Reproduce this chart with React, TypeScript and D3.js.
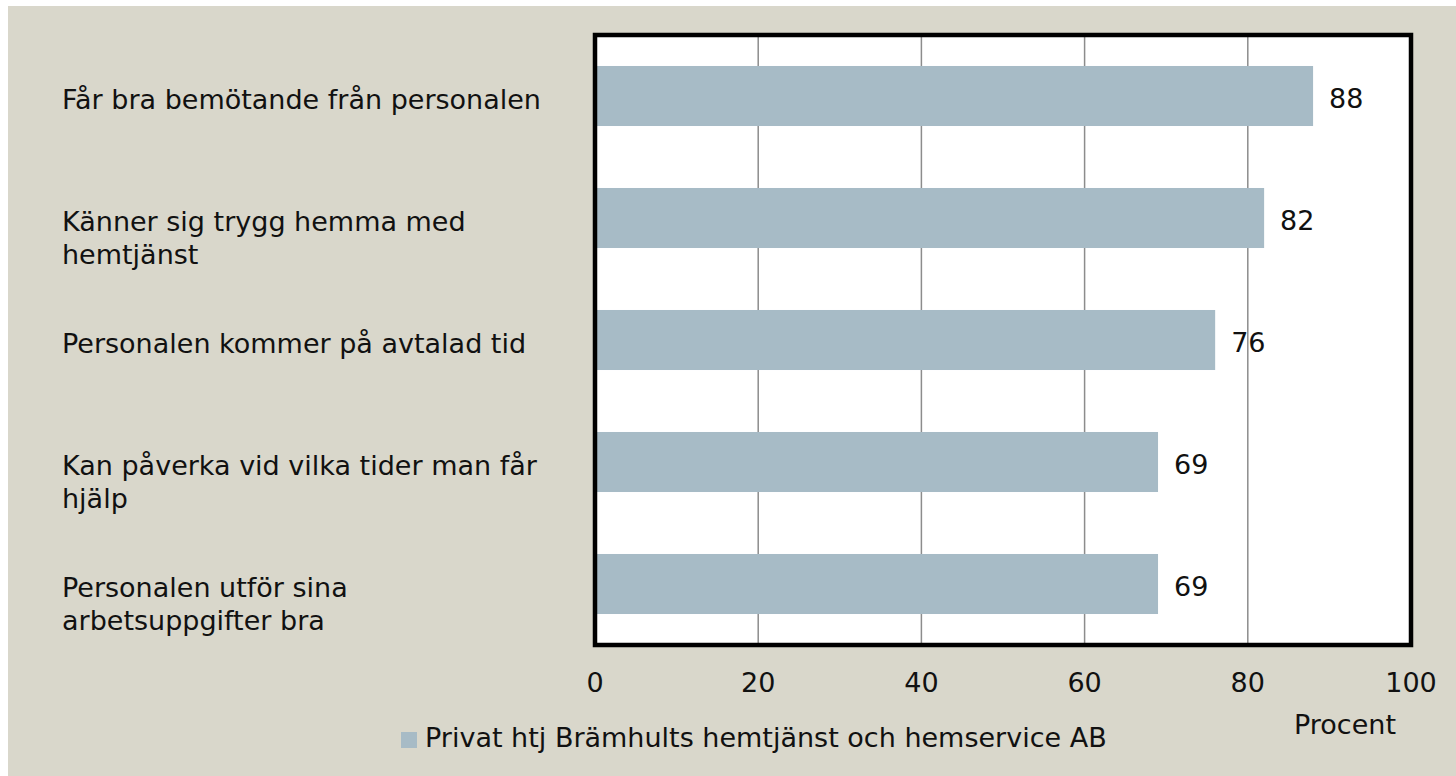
import React from "react";
import * as d3 from "d3";

const categories: string[][] = [
  ["Får bra bemötande från personalen"],
  ["Känner sig trygg hemma med", "hemtjänst"],
  ["Personalen kommer på avtalad tid"],
  ["Kan påverka vid vilka tider man får", "hjälp"],
  ["Personalen utför sina", "arbetsuppgifter bra"],
];
const values: number[] = [88, 82, 76, 69, 69];
const ticks: number[] = [0, 20, 40, 60, 80, 100];
const seriesName = "Privat htj Brämhults hemtjänst och hemservice AB";
const axisTitle = "Procent";

const W = 1448;
const H = 770;
const FONT = "'DejaVu Sans', sans-serif";
const FS = 27;
const BG = "#d9d7cb";
const BAR = "#a7bbc6";

export default function App() {
  // svg origin is at page (8,6)
  const ox = 8, oy = 6;
  const left = 595 - ox, right = 1411 - ox, top = 35 - oy, bottom = 645 - oy;
  const x = d3.scaleLinear().domain([0, 100]).range([left, right]);
  const y = d3
    .scaleBand<number>()
    .domain(d3.range(categories.length))
    .range([top, bottom])
    .paddingInner(0.508)
    .paddingOuter(0.254);
  const bw = y.bandwidth();
  return (
    <svg
      width={W}
      height={H}
      style={{ position: "absolute", left: ox, top: oy, display: "block" }}
      fontFamily={FONT}
    >
      <rect x={0} y={0} width={W} height={H} fill={BG} />
      <rect x={left} y={top} width={right - left} height={bottom - top} fill="#fff" />
      {ticks.slice(1, -1).map((t) => (
        <line key={t} x1={x(t)} x2={x(t)} y1={top} y2={bottom} stroke="#8c8c8c" strokeWidth={1.5} />
      ))}
      {values.map((v, i) => (
        <rect key={i} x={x(0)} y={y(i)!} width={x(v) - x(0)} height={bw} fill={BAR} />
      ))}
      <rect
        x={left}
        y={top}
        width={right - left}
        height={bottom - top}
        fill="none"
        stroke="#000"
        strokeWidth={4.5}
      />
      {values.map((v, i) => (
        <text key={i} x={x(v) + 16} y={y(i)! + bw / 2 + 12} fontSize={FS} fill="#111">
          {v}
        </text>
      ))}
      {categories.map((lines, i) => (
        <text key={i} x={62 - ox} y={y(i)! + bw / 2 + 13} fontSize={FS} fill="#111">
          {lines.map((l, j) => (
            <tspan key={j} x={62 - ox} dy={j === 0 ? 0 : 33}>
              {l}
            </tspan>
          ))}
        </text>
      ))}
      {ticks.map((t) => (
        <text key={t} x={x(t)} y={692 - oy} fontSize={FS} textAnchor="middle" fill="#111">
          {t}
        </text>
      ))}
      <text x={1345 - ox} y={734 - oy} fontSize={FS} textAnchor="middle" fill="#111">
        {axisTitle}
      </text>
      <rect x={401 - ox} y={732 - oy} width={16} height={16} fill={BAR} />
      <text x={425 - ox} y={747 - oy} fontSize={FS} fill="#111">
        {seriesName}
      </text>
    </svg>
  );
}
